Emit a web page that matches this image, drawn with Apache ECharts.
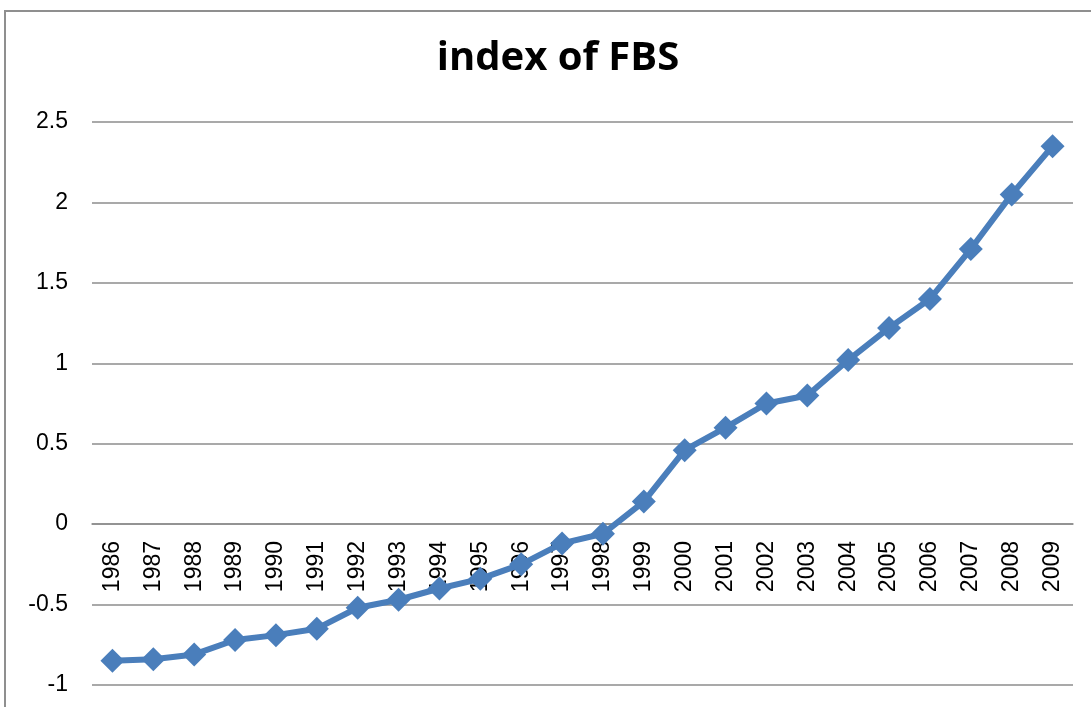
<!DOCTYPE html>
<html>
<head>
<meta charset="utf-8">
<script src="https://cdn.jsdelivr.net/npm/echarts@6/dist/echarts.min.js"></script>
<style>
    html, body { margin: 0; padding: 0; background: #fff; }
    #main { width: 1091px; height: 707px; }
</style>
</head>
<body>
<div id="main"></div>
<script>
const years = ['1986', '1987', '1988', '1989', '1990', '1991', '1992', '1993', '1994', '1995', '1996', '1997',
    '1998', '1999', '2000', '2001', '2002', '2003', '2004', '2005', '2006', '2007', '2008', '2009']
const fbsIndex = [-0.85, -0.84, -0.81, -0.72, -0.69, -0.65, -0.52, -0.47, -0.40, -0.34, -0.25, -0.12,
    -0.06, 0.14, 0.46, 0.60, 0.75, 0.80, 1.02, 1.22, 1.40, 1.71, 2.05, 2.35]

const lineColor = '#4A7EBB'
const gridColor = '#8c8c8c'

const chart = echarts.init(document.getElementById('main'))

chart.setOption({
    animation: false,
    title: {
        text: 'index of FBS',
        left: 553,
        textAlign: 'center',
        top: 34,
        textStyle: {
            fontFamily: 'Open Sans',
            fontWeight: 'bold',
            fontSize: 40,
            color: '#000',
        },
    },
    graphic: [
        {
            type: 'rect',
            shape: { x: 5, y: 11, width: 1200, height: 800 },
            style: { fill: 'none', stroke: '#8f8f8f', lineWidth: 2 },
            silent: true,
        },
    ],
    grid: {
        left: 92,
        right: 18,
        top: 122,
        bottom: 22,
        containLabel: false,
        outerBoundsMode: 'none',
    },
    xAxis: {
        type: 'category',
        data: years,
        boundaryGap: true,
        position: 'bottom',
        // axis sits on the zero line (-1 .. 0 is 161px)
        offset: -161,
        axisLine: {
            onZero: false,
            lineStyle: { color: gridColor, width: 1.5 },
        },
        axisTick: { show: false },
        axisLabel: {
            rotate: 90,
            margin: 17,
            fontFamily: 'Liberation Sans',
            fontSize: 23,
            color: '#000',
        },
    },
    yAxis: {
        type: 'value',
        min: -1,
        max: 2.5,
        interval: 0.5,
        axisLine: { show: false },
        axisTick: { show: false },
        splitLine: { lineStyle: { color: gridColor, width: 1.5 } },
        axisLabel: {
            margin: 24,
            fontFamily: 'Liberation Sans',
            fontSize: 23,
            color: '#000',
        },
    },
    series: [
        {
            name: 'index of FBS',
            type: 'line',
            data: fbsIndex,
            symbol: 'diamond',
            symbolSize: 24,
            lineStyle: { color: lineColor, width: 6 },
            itemStyle: { color: lineColor },
        },
    ],
})
</script>
</body>
</html>
